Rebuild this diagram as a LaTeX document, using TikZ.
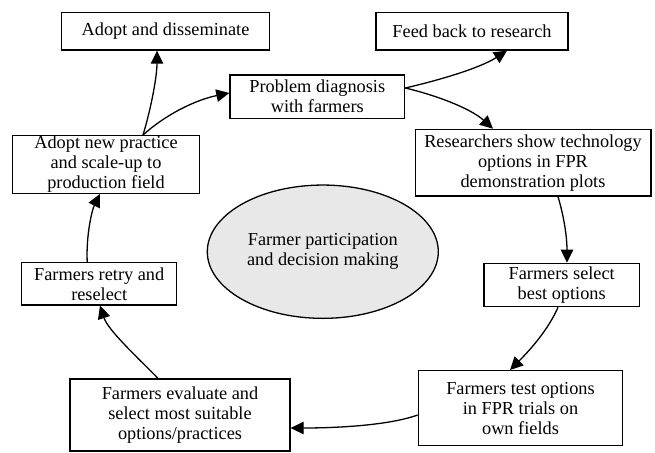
\documentclass[tikz,border=0pt]{standalone}
\usepackage{fontspec}
\setmainfont{Liberation Serif}
\usetikzlibrary{arrows.meta,shapes.geometric}
\begin{document}
\begin{tikzpicture}[x=1pt,y=-1pt,
  box/.style={draw, line width=1.3pt, inner sep=0pt, align=center,
    font=\fontsize{18.3}{20}\selectfont},
  flow/.style={line width=1.3pt, -{Triangle[length=13pt,width=12.5pt]}}]
\useasboundingbox (0,0) rectangle (655,452);
\node[box, minimum width=207.6pt, minimum height=37.7pt] (adopt) at (165.5,31.2) {Adopt and disseminate};
\node[box, minimum width=192pt, minimum height=37.7pt] (feed) at (472,31.2) {Feed back to research};
\node[box, minimum width=174.7pt, minimum height=43.3pt] (prob) at (317.3,96.7) {Problem diagnosis\\with farmers};
\node[box, minimum width=186.6pt, minimum height=57.6pt] (scale) at (106,164.5) {Adopt new practice\\and scale-up to\\production field};
\node[box, minimum width=235.7pt, minimum height=66.7pt] (res) at (533,162.7) {Researchers show technology\\options in FPR\\demonstration plots};
\node[box, minimum width=155.3pt, minimum height=43.4pt] (sel) at (561.7,285) {Farmers select\\best options};
\node[box, minimum width=204.4pt, minimum height=75pt] (test) at (520.5,408.2) {Farmers test options\\in FPR trials on\\own fields};
\node[box, minimum width=220pt, minimum height=72pt] (eval) at (180,415) {Farmers evaluate and\\select most suitable\\options/practices};
\node[box, minimum width=155pt, minimum height=42.3pt] (retry) at (99.2,283.8) {Farmers retry and\\reselect};
\node[box, ellipse, fill=black!9, minimum width=231pt, minimum height=133.3pt] (core) at (322.8,251.7) {Farmer participation\\and decision making};

\draw[flow] ([xshift=37pt]scale.north) .. controls (152,105) and (157,75) .. ([xshift=-8.5pt]adopt.south);
\draw[flow] ([xshift=37pt]scale.north) .. controls (165,115) and (195,100) .. ([yshift=3.7pt]prob.west);
\draw[flow] ([yshift=8.7pt]prob.east) .. controls (440,80) and (480,68) .. ([xshift=35pt]feed.south);
\draw[flow] ([yshift=8.7pt]prob.east) .. controls (435,95) and (470,108) .. ([xshift=-40pt]res.north);
\draw[flow] ([xshift=25pt]res.south) .. controls (565,220) and (567,240) .. ([xshift=5.3pt]sel.north);
\draw[flow] ([xshift=-3.7pt]sel.south) .. controls (548,330) and (530,350) .. ([xshift=-10.5pt]test.north);
\draw[flow] ([yshift=-6.8pt]test.west) .. controls (390,425) and (340,428) .. ([yshift=-13pt]eval.east);
\draw[flow] ([xshift=-22pt]eval.north) .. controls (135,355) and (108,330) .. ([xshift=0.8pt]retry.south);
\draw[flow] ([xshift=-12pt]retry.north) .. controls (86,235) and (92,210) .. ([xshift=-6pt]scale.south);
\end{tikzpicture}
\end{document}
